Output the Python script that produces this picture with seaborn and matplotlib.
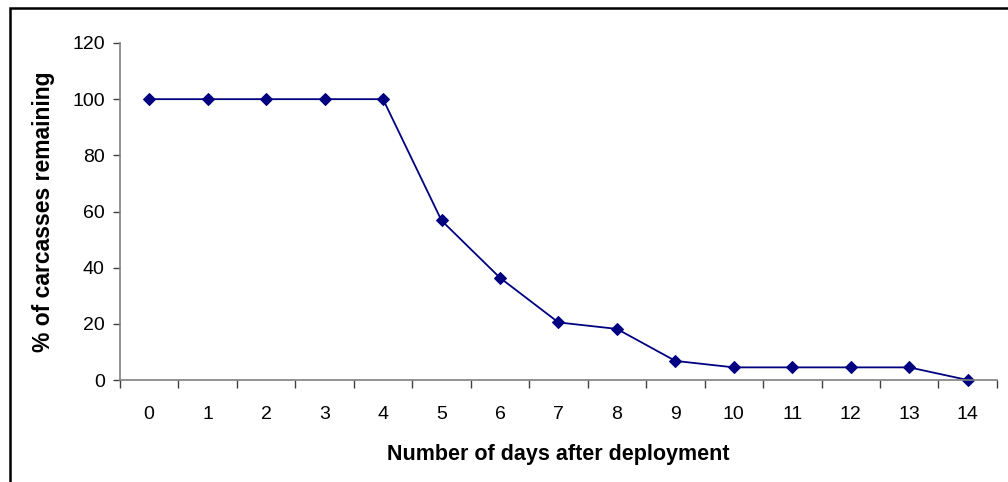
import matplotlib
matplotlib.use("Agg")
import matplotlib.pyplot as plt
from matplotlib.patches import Rectangle
from matplotlib.ticker import FixedLocator, NullFormatter
import seaborn as sns
import pandas as pd

# data
days = list(range(15))
pct_remaining = [100, 100, 100, 100, 100, 56.8, 36.4, 20.5, 18.2, 6.8, 4.5, 4.5, 4.5, 4.5, 0]
y_ticks = [0, 20, 40, 60, 80, 100, 120]

df = pd.DataFrame({"day": days, "pct": pct_remaining})

sns.set_style("white")
plt.rcParams['font.family'] = ['Liberation Sans', 'DejaVu Sans']
plt.rcParams['text.color'] = 'black'
plt.rcParams['axes.labelcolor'] = 'black'
plt.rcParams['xtick.color'] = 'black'
plt.rcParams['ytick.color'] = 'black'

fig = plt.figure(figsize=(10.08, 4.82), dpi=100)
ax = fig.add_axes([0.119, 0.2116, 0.870, 0.6992])

sns.lineplot(data=df, x="day", y="pct", ax=ax, color="#000080", linewidth=1.3,
             marker="D", markersize=6.5, markeredgecolor="#000080", clip_on=False)

ax.set_xlim(-0.5, 14.5)
ax.set_ylim(0, 120)
ax.set_yticks(y_ticks)
ax.set_yticklabels([str(v) for v in y_ticks], fontsize=14)

# excel style: tick marks between categories, labels at the centres
ax.xaxis.set_major_locator(FixedLocator([d - 0.5 for d in days] + [14.5]))
ax.xaxis.set_major_formatter(NullFormatter())
ax.xaxis.set_minor_locator(FixedLocator(days))
ax.set_xticklabels([str(d) for d in days], minor=True, fontsize=14)
ax.tick_params(axis="x", which="major", direction="out", length=6, width=1, color="#404040", bottom=True)
ax.tick_params(axis="x", which="minor", length=0, pad=19, bottom=True)
ax.tick_params(axis="y", direction="out", length=5, width=1, color="#404040", left=True, pad=6)

for side in ["top", "right"]:
    ax.spines[side].set_visible(False)
for side in ["left", "bottom"]:
    ax.spines[side].set_color("#808080")
    ax.spines[side].set_linewidth(1.2)

ax.set_xlabel("Number of days after deployment", fontsize=15.5, fontweight="bold", labelpad=15)
ax.set_ylabel("% of carcasses remaining", fontsize=16.5, fontweight="bold", labelpad=12)

# outer chart frame (only top and left edge are inside the picture)
fig.add_artist(Rectangle((10 / 1008, -0.5), 2.0, 0.5 + 1 - 8 / 482, transform=fig.transFigure,
                         fill=False, edgecolor="black", linewidth=1.8, clip_on=False))

fig.savefig("out.png", dpi=100)
